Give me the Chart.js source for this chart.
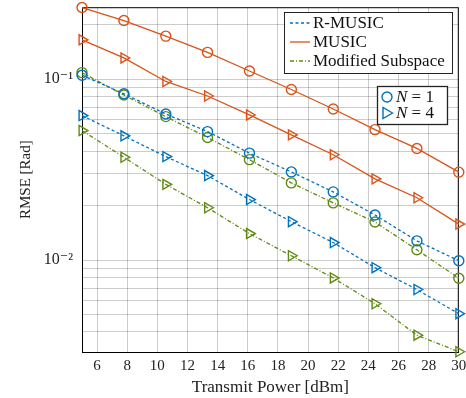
<!DOCTYPE html>
<html>
<head>
<meta charset="utf-8">
<script src="https://cdn.jsdelivr.net/npm/chart.js@4.4.1/dist/chart.umd.min.js"></script>
<style>
html, body { margin: 0; padding: 0; background: #fff; }
</style>
</head>
<body>
<canvas id="myChart" width="466" height="398"></canvas>
<script>
var powerDbm = [5, 7.78, 10.56, 13.33, 16.11, 18.89, 21.67, 24.44, 27.22, 30];

var rMusicN1 = [0.1052, 0.0830, 0.0642, 0.0513, 0.0390, 0.0307, 0.0238, 0.01774, 0.01276, 0.00991];
var rMusicN4 = [0.0629, 0.0486, 0.0373, 0.0293, 0.0216, 0.0163, 0.01249, 0.00907, 0.00687, 0.00505];
var musicN1 = [0.249, 0.211, 0.173, 0.1406, 0.111, 0.0877, 0.0684, 0.0526, 0.0414, 0.0306];
var musicN4 = [0.165, 0.131, 0.0971, 0.0807, 0.0634, 0.0492, 0.0382, 0.0281, 0.0221, 0.0158];
var modSubN1 = [0.1087, 0.0817, 0.0621, 0.0476, 0.0359, 0.0267, 0.0207, 0.01623, 0.01139, 0.00793];
var modSubN4 = [0.0520, 0.0370, 0.0262, 0.01945, 0.0140, 0.01056, 0.00796, 0.00573, 0.00384, 0.00311];

var xTicks = [6, 8, 10, 12, 14, 16, 18, 20, 22, 24, 26, 28, 30];
var yDecades = [0.001, 0.01, 0.1];
var yMultipliers = [1, 2, 3, 4, 5, 6, 7, 8, 9];
var yLabels = { '0.01': '10\u207B\u00B2', '0.1': '10\u207B\u00B9' };
var yMin = 0.0031, yMax = 0.25;

var blue = '#0072BD', orange = '#D95319', green = '#5f8a12';
var serif = "'Liberation Serif', 'DejaVu Serif', serif";

function pts(ys) {
  return ys.map(function (y, i) { return { x: powerDbm[i], y: y }; });
}

function series(label, ys, color, dash, marker) {
  return {
    label: label,
    data: pts(ys),
    borderColor: color,
    borderWidth: 1.3,
    borderDash: dash,
    pointStyle: marker === 'tri' ? 'triangle' : 'circle',
    rotation: marker === 'tri' ? 90 : 0,
    pointRadius: marker === 'tri' ? 5.8 : 5,
    pointBorderWidth: 1.4,
    pointBorderColor: color,
    pointBackgroundColor: 'rgba(0,0,0,0)',
    fill: false,
    tension: 0,
    clip: false
  };
}

var frame = {
  id: 'frame',
  beforeDatasetsDraw: function (chart) {
    var a = chart.chartArea, ctx = chart.ctx;
    ctx.save();
    ctx.strokeStyle = '#000';
    ctx.lineWidth = 1;
    ctx.strokeRect(a.left + 0.5, a.top + 0.5, a.right - a.left - 1, a.bottom - a.top);
    ctx.restore();
  },
  afterDraw: function (chart) {
    var ctx = chart.ctx;
    ctx.save();
    // method legend
    ctx.fillStyle = '#fff';
    ctx.fillRect(284, 12, 168, 61);
    ctx.strokeStyle = '#222';
    ctx.lineWidth = 1;
    ctx.strokeRect(284.5, 12.5, 168, 61);
    var rows = [
      ['R-MUSIC', blue, [3, 2.5]],
      ['MUSIC', orange, []],
      ['Modified Subspace', green, [4, 2, 1, 2]]
    ];
    ctx.font = '17px ' + serif;
    ctx.textBaseline = 'middle';
    rows.forEach(function (r, i) {
      var y = 23 + i * 19;
      ctx.strokeStyle = r[1];
      ctx.lineWidth = 1.3;
      ctx.setLineDash(r[2]);
      ctx.beginPath();
      ctx.moveTo(290, y);
      ctx.lineTo(310, y);
      ctx.stroke();
      ctx.setLineDash([]);
      ctx.fillStyle = '#111';
      ctx.fillText(r[0], 313, y + 1);
    });
    // marker legend
    ctx.fillStyle = '#fff';
    ctx.fillRect(377, 86, 70, 38);
    ctx.strokeStyle = '#222';
    ctx.strokeRect(377.5, 86.5, 70, 38);
    ctx.strokeStyle = blue;
    ctx.lineWidth = 1.4;
    ctx.beginPath();
    ctx.arc(387, 97, 5, 0, Math.PI * 2);
    ctx.stroke();
    ctx.beginPath();
    ctx.moveTo(392.5, 113);
    ctx.lineTo(383, 107.5);
    ctx.lineTo(383, 118.5);
    ctx.closePath();
    ctx.stroke();
    ['1', '4'].forEach(function (n, i) {
      var y = 98 + i * 16;
      ctx.fillStyle = '#111';
      ctx.font = 'italic 17px ' + serif;
      ctx.fillText('N', 396, y);
      var w = ctx.measureText('N').width;
      ctx.font = '17px ' + serif;
      ctx.fillText(' = ' + n, 396 + w, y);
    });
    ctx.restore();
  }
};

new Chart('myChart', {
  type: 'line',
  data: {
    datasets: [
      series('R-MUSIC N=1', rMusicN1, blue, [3, 2.5], 'circ'),
      series('R-MUSIC N=4', rMusicN4, blue, [3, 2.5], 'tri'),
      series('MUSIC N=1', musicN1, orange, [], 'circ'),
      series('MUSIC N=4', musicN4, orange, [], 'tri'),
      series('Modified Subspace N=1', modSubN1, green, [4, 2, 1, 2], 'circ'),
      series('Modified Subspace N=4', modSubN4, green, [4, 2, 1, 2], 'tri')
    ]
  },
  options: {
    responsive: false,
    animation: false,
    layout: { padding: { top: 5, right: 6, left: 0, bottom: 0 } },
    plugins: {
      legend: { display: false },
      tooltip: { enabled: false }
    },
    scales: {
      x: {
        type: 'linear',
        min: 5,
        max: 30,
        afterBuildTicks: function (s) {
          s.ticks = xTicks.map(function (v) { return { value: v }; });
        },
        afterFit: function (s) {
          s.height = 46;
          s.paddingLeft = 0;
          s.paddingRight = 0;
        },
        grid: { color: 'rgba(0,0,0,0.2)', lineWidth: 1, drawTicks: false },
        border: { color: '#000', width: 1 },
        ticks: {
          padding: 5,
          color: '#222',
          maxRotation: 0,
          autoSkip: false,
          font: { family: serif, size: 15 }
        },
        title: {
          display: true,
          text: 'Transmit Power [dBm]',
          color: '#222',
          padding: { top: 7, bottom: 0 },
          font: { family: serif, size: 17 }
        }
      },
      y: {
        type: 'logarithmic',
        min: yMin,
        max: yMax,
        afterBuildTicks: function (s) {
          var t = [];
          yDecades.forEach(function (d) {
            yMultipliers.forEach(function (m) {
              var v = +(d * m).toPrecision(3);
              if (v >= yMin && v <= yMax) t.push({ value: v });
            });
          });
          s.ticks = t;
        },
        afterFit: function (s) {
          s.width = 82;
          s.paddingTop = 0;
          s.paddingBottom = 0;
        },
        grid: { color: 'rgba(0,0,0,0.2)', lineWidth: 1, drawTicks: false },
        border: { color: '#555', width: 1 },
        ticks: {
          padding: 9,
          color: '#222',
          autoSkip: false,
          font: { family: serif, size: 16 },
          callback: function (v) {
            return yLabels[String(+v.toPrecision(3))] || '';
          }
        },
        title: {
          display: true,
          text: 'RMSE [Rad]',
          color: '#222',
          padding: { top: 17, bottom: 0 },
          font: { family: serif, size: 15 }
        }
      }
    }
  },
  plugins: [frame]
});
</script>
</body>
</html>
